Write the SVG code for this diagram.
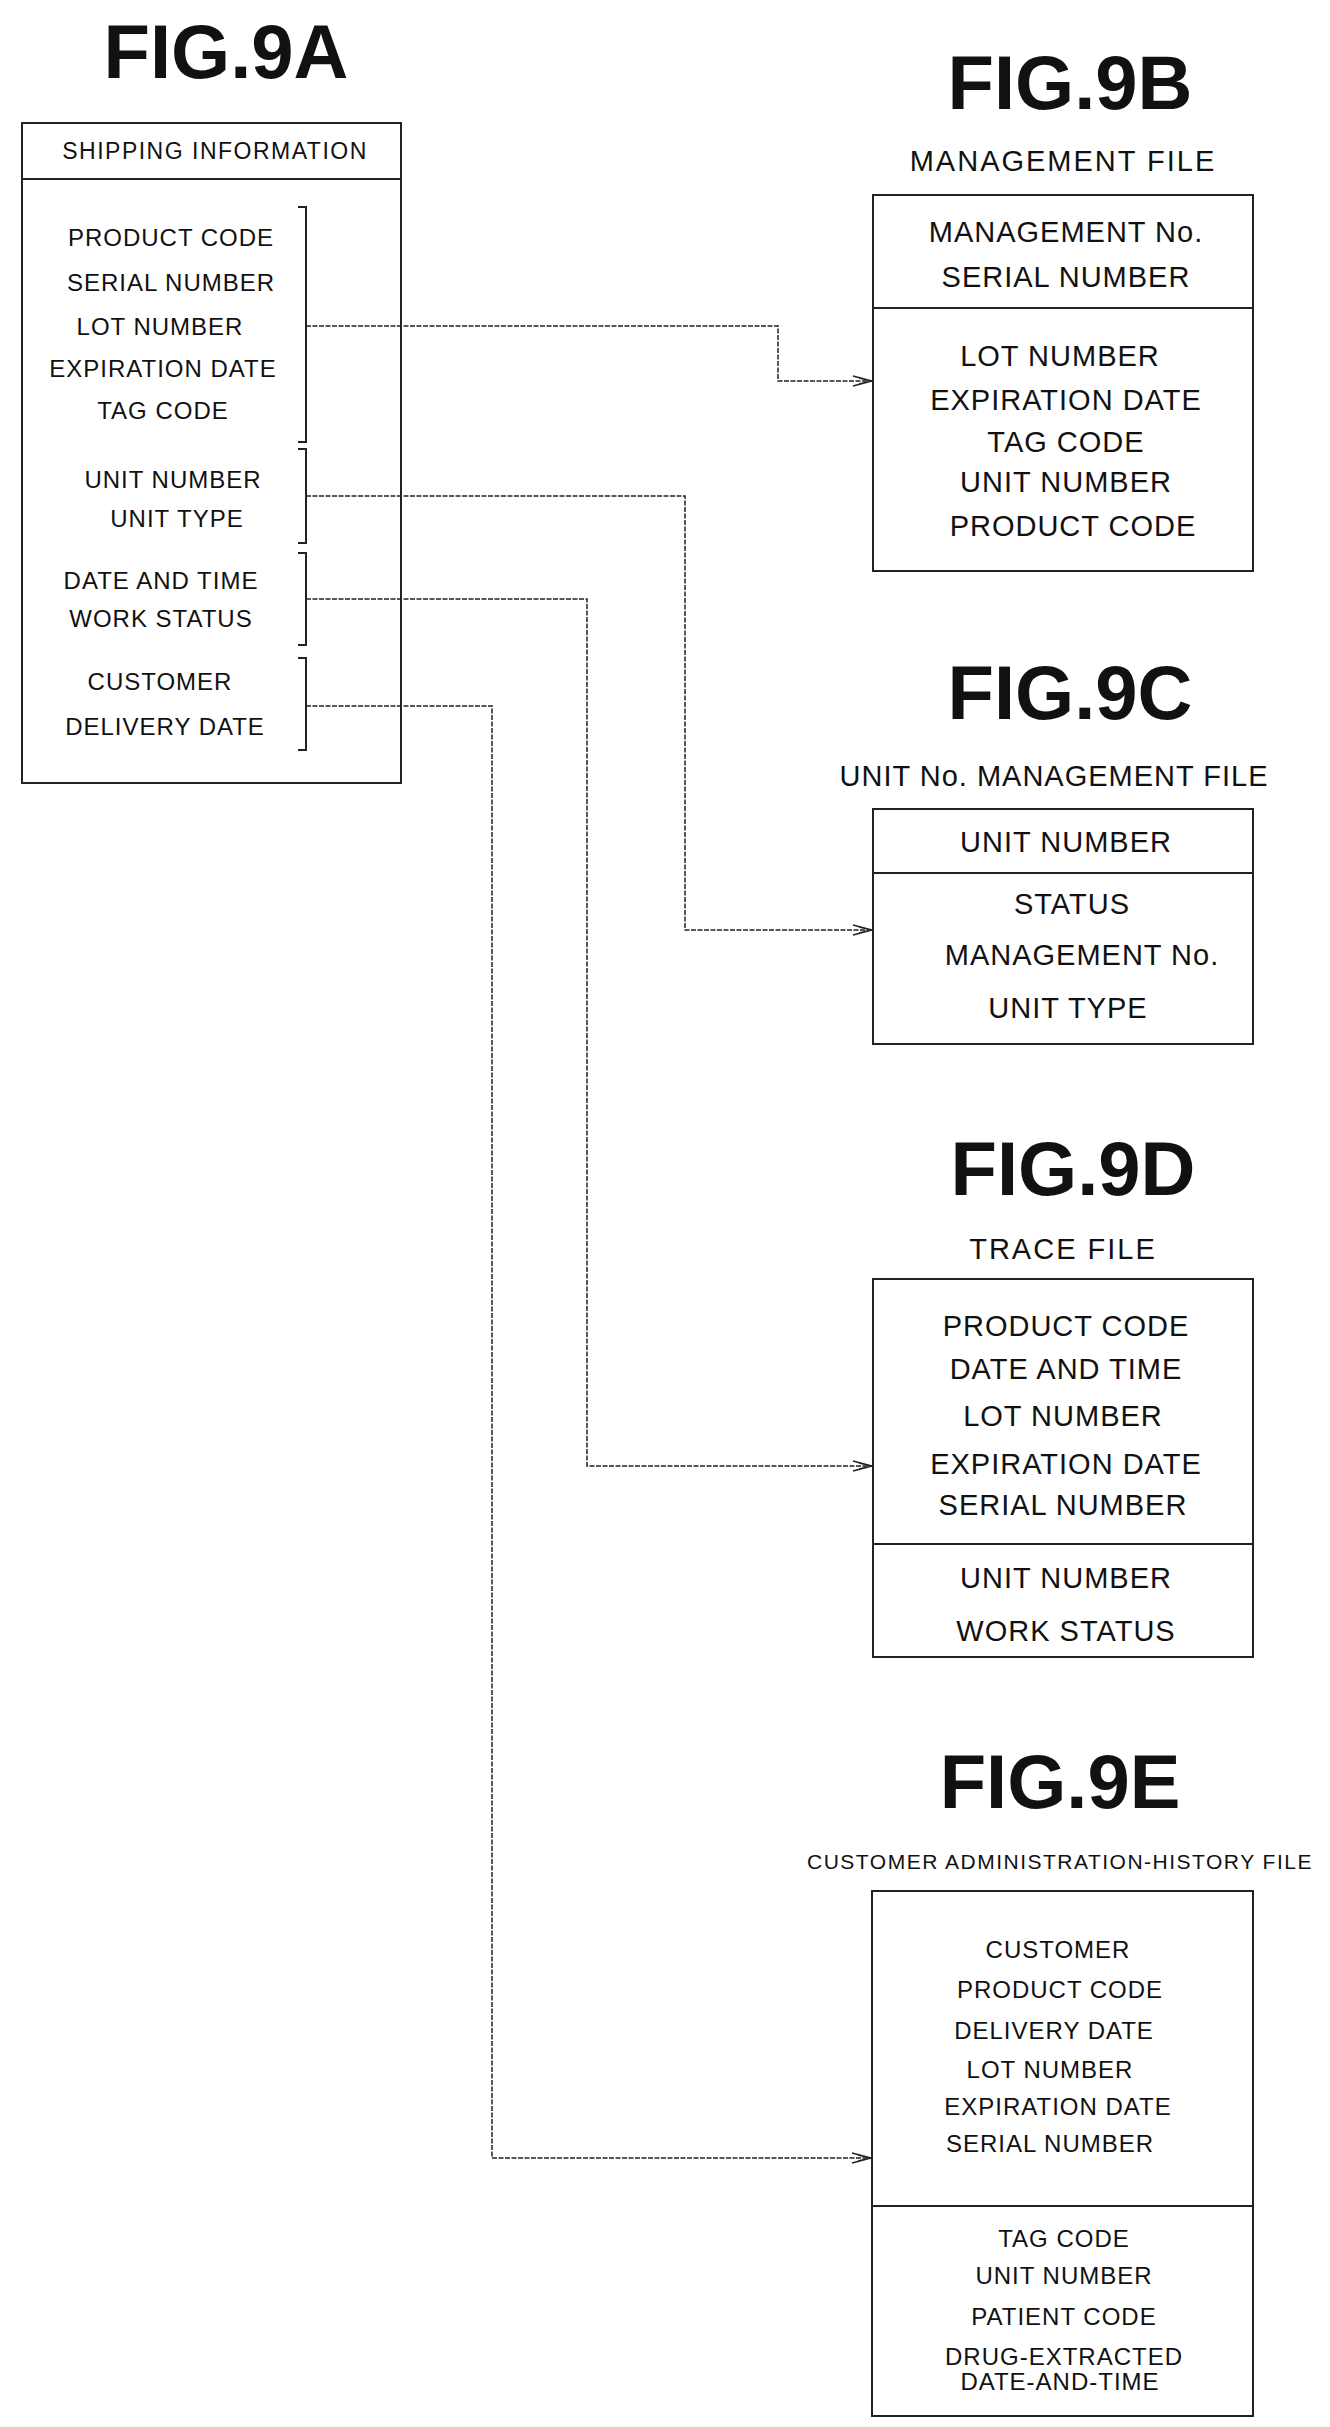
<svg xmlns="http://www.w3.org/2000/svg" width="1330" height="2427" viewBox="0 0 1330 2427">
<style>
text{font-family:"Liberation Sans",Arial,sans-serif;fill:#111;text-anchor:middle}
.t{font-size:76px;font-weight:bold}
.s{font-size:23px;letter-spacing:1.5px}
.s2{font-size:21px;letter-spacing:1.5px}
.a{font-size:24px;letter-spacing:1px}
.h{font-size:29px;letter-spacing:2px}
.b{font-size:29px;letter-spacing:1px}
.e{font-size:24px;letter-spacing:1px}
.box{fill:none;stroke:#222;stroke-width:2}
.ln{fill:none;stroke:#222;stroke-width:1.5;stroke-dasharray:5 1.5}
.br{fill:none;stroke:#222;stroke-width:2}
</style>
<defs><marker id="ar" markerWidth="22" markerHeight="12" refX="21" refY="6" orient="auto" markerUnits="userSpaceOnUse"><path d="M2,1 L21,6 L2,11 M8,3 L21,6 L8,9" fill="none" stroke="#222" stroke-width="1.3"/></marker></defs>
<rect width="1330" height="2427" fill="#fff"/>
<g id="figA">
<text class="t" x="226" y="78">FIG.9A</text>
<rect class="box" x="22" y="123" width="379" height="660"/>
<line class="box" x1="22" y1="179" x2="401" y2="179"/>
<text class="s" x="215" y="159">SHIPPING INFORMATION</text>
<text class="a" x="171" y="246">PRODUCT CODE</text>
<text class="a" x="171" y="291">SERIAL NUMBER</text>
<text class="a" x="160" y="335">LOT NUMBER</text>
<text class="a" x="163" y="377">EXPIRATION DATE</text>
<text class="a" x="163" y="419">TAG CODE</text>
<text class="a" x="173" y="488">UNIT NUMBER</text>
<text class="a" x="177" y="527">UNIT TYPE</text>
<text class="a" x="161" y="589">DATE AND TIME</text>
<text class="a" x="161" y="627">WORK STATUS</text>
<text class="a" x="160" y="690">CUSTOMER</text>
<text class="a" x="165" y="735">DELIVERY DATE</text>
<path class="br" d="M298,207 H306 V442 H298"/>
<path class="br" d="M298,449 H306 V543 H298"/>
<path class="br" d="M298,553 H306 V645 H298"/>
<path class="br" d="M298,658 H306 V750 H298"/>
</g>
<g id="figB">
<text class="t" x="1070" y="109">FIG.9B</text>
<text class="h" x="1063" y="171">MANAGEMENT FILE</text>
<rect class="box" x="873" y="195" width="380" height="376"/>
<line class="box" x1="873" y1="308" x2="1253" y2="308"/>
<text class="b" x="1066" y="242">MANAGEMENT No.</text>
<text class="b" x="1066" y="287">SERIAL NUMBER</text>
<text class="b" x="1060" y="366">LOT NUMBER</text>
<text class="b" x="1066" y="410">EXPIRATION DATE</text>
<text class="b" x="1066" y="452">TAG CODE</text>
<text class="b" x="1066" y="492">UNIT NUMBER</text>
<text class="b" x="1073" y="536">PRODUCT CODE</text>
</g>
<g id="figC">
<text class="t" x="1070" y="719">FIG.9C</text>
<text class="b" x="1054" y="786">UNIT No. MANAGEMENT FILE</text>
<rect class="box" x="873" y="809" width="380" height="235"/>
<line class="box" x1="873" y1="873" x2="1253" y2="873"/>
<text class="b" x="1066" y="852">UNIT NUMBER</text>
<text class="b" x="1072" y="914">STATUS</text>
<text class="b" x="1082" y="965">MANAGEMENT No.</text>
<text class="b" x="1068" y="1018">UNIT TYPE</text>
</g>
<g id="figD">
<text class="t" x="1073" y="1195">FIG.9D</text>
<text class="h" x="1063" y="1259">TRACE FILE</text>
<rect class="box" x="873" y="1279" width="380" height="378"/>
<line class="box" x1="873" y1="1544" x2="1253" y2="1544"/>
<text class="b" x="1066" y="1336">PRODUCT CODE</text>
<text class="b" x="1066" y="1379">DATE AND TIME</text>
<text class="b" x="1063" y="1426">LOT NUMBER</text>
<text class="b" x="1066" y="1474">EXPIRATION DATE</text>
<text class="b" x="1063" y="1515">SERIAL NUMBER</text>
<text class="b" x="1066" y="1588">UNIT NUMBER</text>
<text class="b" x="1066" y="1641">WORK STATUS</text>
</g>
<g id="figE">
<text class="t" x="1060" y="1808">FIG.9E</text>
<text class="s2" x="1060" y="1869">CUSTOMER ADMINISTRATION-HISTORY FILE</text>
<rect class="box" x="872" y="1891" width="381" height="525"/>
<line class="box" x1="872" y1="2206" x2="1253" y2="2206"/>
<text class="e" x="1058" y="1958">CUSTOMER</text>
<text class="e" x="1060" y="1998">PRODUCT CODE</text>
<text class="e" x="1054" y="2039">DELIVERY DATE</text>
<text class="e" x="1050" y="2078">LOT NUMBER</text>
<text class="e" x="1058" y="2115">EXPIRATION DATE</text>
<text class="e" x="1050" y="2152">SERIAL NUMBER</text>
<text class="e" x="1064" y="2247">TAG CODE</text>
<text class="e" x="1064" y="2284">UNIT NUMBER</text>
<text class="e" x="1064" y="2325">PATIENT CODE</text>
<text class="e" x="1064" y="2365">DRUG-EXTRACTED</text>
<text class="e" x="1060" y="2390">DATE-AND-TIME</text>
</g>
<g id="connectors">
<path class="ln" d="M306,326 H778 V381 H872" marker-end="url(#ar)"/>
<path class="ln" d="M306,496 H685 V930 H872" marker-end="url(#ar)"/>
<path class="ln" d="M306,599 H587 V1466 H872" marker-end="url(#ar)"/>
<path class="ln" d="M306,706 H492 V2158 H871" marker-end="url(#ar)"/>
</g>
</svg>
